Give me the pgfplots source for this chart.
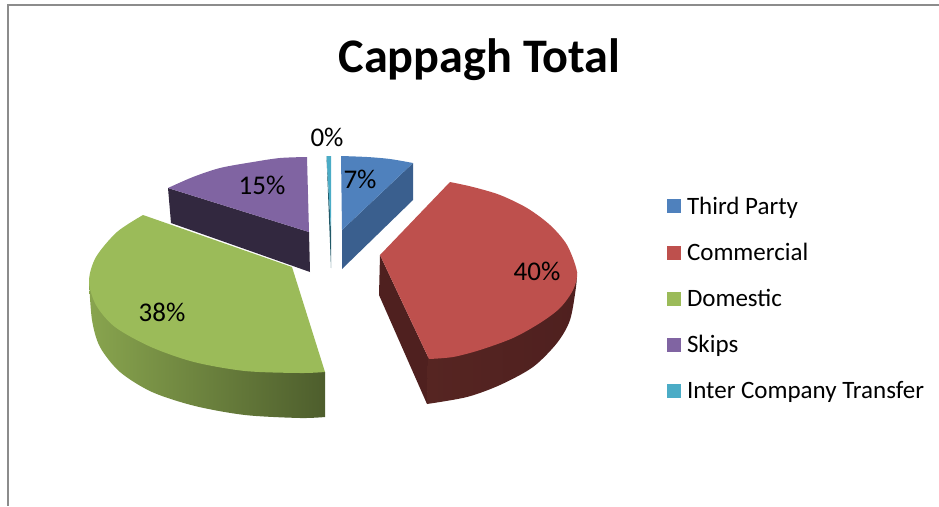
\documentclass[border=0pt]{standalone}
\usepackage{pgfplots}
\pgfplotsset{compat=1.18}
\usepackage{fontspec}
\setmainfont{Carlito}
\definecolor{cblue}{HTML}{4F81BD}
\definecolor{cred}{HTML}{BE504D}
\definecolor{cgreen}{HTML}{9BBB59}
\definecolor{cpurple}{HTML}{8064A2}
\definecolor{cteal}{HTML}{4BACC6}
\definecolor{sblue}{HTML}{3A5F8E}
\definecolor{sred}{HTML}{4F201F}
\definecolor{sredl}{HTML}{562522}
\definecolor{spurple}{HTML}{32283F}
\definecolor{steal}{HTML}{205867}
\definecolor{bordergray}{HTML}{8C8C8C}
\begin{document}
\begin{tikzpicture}
\useasboundingbox (0,0) rectangle (939pt,506pt);
\begin{axis}[
  scale only axis, width=939pt, height=506pt,
  xmin=0, xmax=939, ymin=0, ymax=506, y dir=reverse,
  hide axis,
  legend style={at={(axis cs:667,207)}, anchor=north west, yshift=12pt, draw=none, fill=none,
    font=\fontsize{25}{25}\selectfont, row sep=23.3pt, inner sep=0pt, outer sep=0pt,
    cells={anchor=west}},
  legend image code/.code={\fill[#1] (0pt,-7pt) rectangle (14pt,7pt); \path (18pt,0pt);},
  legend cell align=left,
]
% chart area border
\addplot[bordergray, line width=1.4pt, forget plot] coordinates {(939,5) (8,5) (8,506)};
% sides
\addplot[fill=sblue, draw=none, forget plot] coordinates {(413,163) (413,200) (342,269) (342,230)};
\addplot[fill=spurple, draw=none, forget plot] coordinates {(168,188) (171,223) (310,272) (309,232)};
\addplot[fill=steal, draw=none, forget plot] coordinates {(326.5,156) (331,230) (331,268)};
\addplot[fill=sred, draw=none, forget plot] coordinates {(380,255) (379,295) (427,404) (429,359)};
\addplot[smooth, left color=sredl, middle color=sred, right color=sred, draw=none, forget plot]
  coordinates {(427,404) (467,397) (500,385) (533,367) (557,343) (570,320) (576,287) (577,272)} -- (429,300) -- cycle;
\addplot[smooth, left color=cgreen!88!black, middle color=cgreen!75!black, right color=cgreen!50!black, draw=none, forget plot]
  coordinates {(89,281) (92,320) (100,347) (120,372) (152,392) (195,406) (245,415) (300,418) (325,417)} -- (325,372) -- cycle;
% tops
\addplot[smooth, fill=cblue, draw=none] coordinates {(341,156) (367,157) (390,159) (413,163)} -- (342,230) -- cycle;
\addlegendentry{Third Party}
\addplot[smooth, fill=cred, draw=none] coordinates {(450,182) (473,187) (500,195) (527,208) (550,225) (567,245) (577,272) (573,290) (560,308) (540,323) (513,338) (480,350) (453,357) (429,359)} -- (380,255) -- cycle;
\addlegendentry{Commercial}
\addplot[smooth, fill=cgreen, draw=none] coordinates {(143,215) (117,232) (96,257) (89,281) (96,305) (115,327) (151,347) (194,362) (245,371) (300,373) (325,372)} -- (292,267) -- cycle;
\addlegendentry{Domestic}
\addplot[smooth, fill=cpurple, draw=none] coordinates {(168,188) (193,177) (220,168) (253,162) (280,158) (307,157)} -- (309,232) -- cycle;
\addlegendentry{Skips}
\addplot[fill=cteal, draw=none] coordinates {(326.5,156) (331,156) (331,230)};
\addlegendentry{Inter Company Transfer}
% text
\node[font=\fontsize{48.2}{48.2}\selectfont\bfseries] at (axis cs:479.5,60) {Cappagh Total};
\node[font=\fontsize{27}{27}\selectfont] at (axis cs:327,137) {0\%};
\node[font=\fontsize{27}{27}\selectfont] at (axis cs:360,179) {7\%};
\node[font=\fontsize{27}{27}\selectfont] at (axis cs:262,185) {15\%};
\node[font=\fontsize{27}{27}\selectfont] at (axis cs:537,271) {40\%};
\node[font=\fontsize{27}{27}\selectfont] at (axis cs:162,312) {38\%};
\end{axis}
\end{tikzpicture}
\end{document}
